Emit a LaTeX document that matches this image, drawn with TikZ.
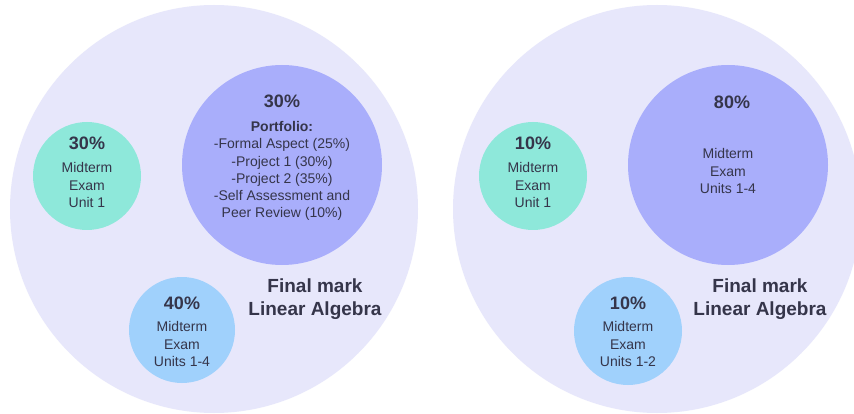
\documentclass[tikz,border=0pt]{standalone}
\usepackage{fontspec}
\setmainfont{Liberation Sans}

\definecolor{outerfill}{HTML}{E7E7FB}
\definecolor{tealfill}{HTML}{8EE8DA}
\definecolor{purplefill}{HTML}{A9AEFB}
\definecolor{bluefill}{HTML}{A0D1FC}
\definecolor{ink}{HTML}{35354A}

\tikzset{
  bubble/.style={circle, draw=none, inner sep=0pt},
  pct/.style={font=\bfseries\fontsize{18}{22}\selectfont, text=ink},
  desc/.style={font=\fontsize{14}{17.2}\selectfont, text=ink, align=center},
  caption/.style={font=\bfseries\fontsize{19}{23}\selectfont, text=ink, align=center},
}

\begin{document}
\begin{tikzpicture}[x=1pt, y=-1pt]
    \useasboundingbox[fill=white] (0,0) rectangle (854,414);

    % Left scheme: the circles
    \node[bubble, fill=outerfill, minimum size=408pt] (outerL) at (214,209) {};
    \node[bubble, fill=tealfill, minimum size=108pt] (tealL) at (87,176) {};
    \node[bubble, fill=purplefill, minimum size=200pt] (purpleL) at (282,165) {};
    \node[bubble, fill=bluefill, minimum size=106pt] (blueL) at (182,330) {};

    % Left scheme: the texts
    \node[pct] (tealLpct) at (87,143) {30\%};
    \node[desc] (tealLtxt) at (87,185) {Midterm\\Exam\\Unit 1};
    \node[pct] (purpleLpct) at (282,101) {30\%};
    \node[desc] (purpleLtxt) at (282,171) {\textbf{Portfolio:}\\-Formal Aspect (25\%)\\-Project 1 (30\%)\\-Project 2 (35\%)\\-Self Assessment and\\Peer Review (10\%)};
    \node[pct] (blueLpct) at (182,303) {40\%};
    \node[desc] (blueLtxt) at (182,344) {Midterm\\Exam\\Units 1-4};
    \node[caption] (finalL) at (315,299) {Final mark\\Linear Algebra};

    % Right scheme: the circles
    \node[bubble, fill=outerfill, minimum size=408pt] (outerR) at (657,209) {};
    \node[bubble, fill=tealfill, minimum size=108pt] (tealR) at (533,176) {};
    \node[bubble, fill=purplefill, minimum size=200pt] (purpleR) at (728,165) {};
    \node[bubble, fill=bluefill, minimum size=108pt] (blueR) at (628,331) {};

    % Right scheme: the texts
    \node[pct] (tealRpct) at (533,143) {10\%};
    \node[desc] (tealRtxt) at (533,185) {Midterm\\Exam\\Unit 1};
    \node[pct] (purpleRpct) at (732,102) {80\%};
    \node[desc] (purpleRtxt) at (728,171) {Midterm\\Exam\\Units 1-4};
    \node[pct] (blueRpct) at (628,303) {10\%};
    \node[desc] (blueRtxt) at (628,344) {Midterm\\Exam\\Units 1-2};
    \node[caption] (finalR) at (760,299) {Final mark\\Linear Algebra};
\end{tikzpicture}
\end{document}
